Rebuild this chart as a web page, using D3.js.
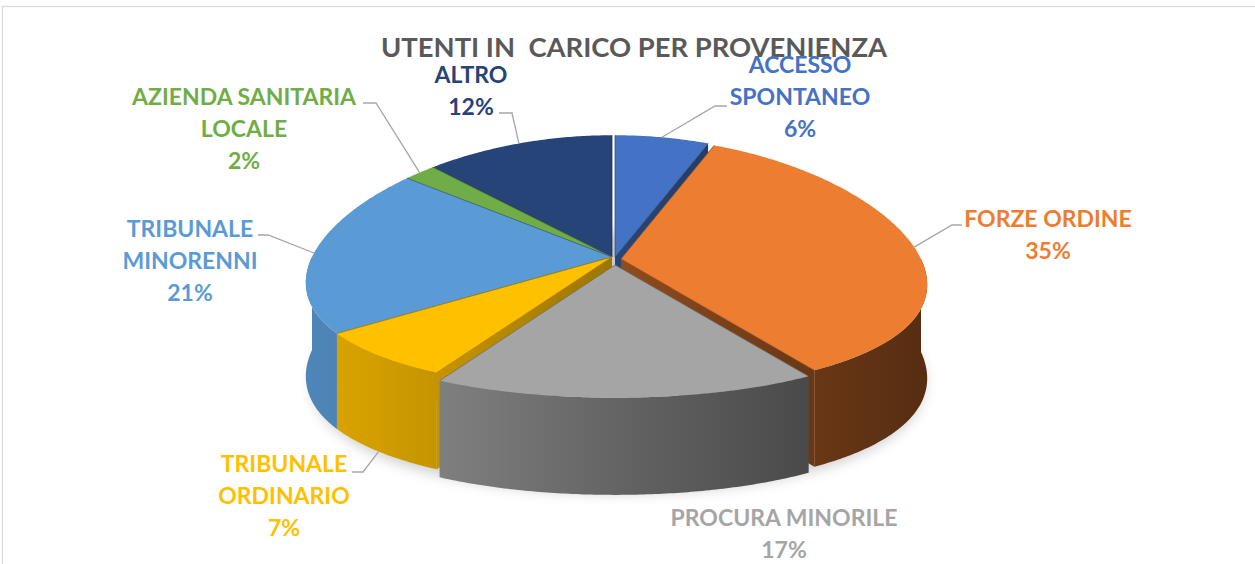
<!DOCTYPE html>
<html>
<head>
<meta charset="utf-8">
<script src="https://cdn.jsdelivr.net/npm/d3@7"></script>
<style>
  body { margin: 0; background: #fff; }
  svg { display: block; }
  text { font-family: Lato, "Open Sans", sans-serif; font-weight: bold; }
</style>
</head>
<body>
<div id="chart"></div>
<script>
// Data
const categories = ["ACCESSO SPONTANEO", "FORZE ORDINE", "PROCURA MINORILE", "TRIBUNALE ORDINARIO",
  "TRIBUNALE MINORENNI", "AZIENDA SANITARIA LOCALE", "ALTRO"];
const labelLines = [["ACCESSO", "SPONTANEO"], ["FORZE ORDINE"], ["PROCURA MINORILE"], ["TRIBUNALE", "ORDINARIO"],
  ["TRIBUNALE", "MINORENNI"], ["AZIENDA SANITARIA", "LOCALE"], ["ALTRO"]];
const values = [6, 35, 17, 7, 21, 2, 12];
const colors = ["#4472C4", "#ED7D31", "#A5A5A5", "#FFC000", "#5B9BD5", "#70AD47", "#264478"];
const title = "UTENTI IN  CARICO PER PROVENIENZA";

// Layout
const width = 1255;
const height = 564;
const cx = 612, cy = 257;   // pie centre
const rx = 300, ry = 127;   // radii of the top face
const perspX = 0.2;         // perspective, horizontal
const perspY = 0.043;       // perspective, vertical
const depth = 93;           // thickness of the pie
const wallX0 = 303, wallX1 = 921;

// exploded slices (px)
const explode = {
  "ACCESSO SPONTANEO": [3, 0],
  "FORZE ORDINE": [9, 2],
  "PROCURA MINORILE": [3, 8]
};

// label placement: centre x, first baseline, leader elbow and end
const labelPos = {
  "ACCESSO SPONTANEO": { x: 800, y: 73, elbow: [715, 106], end: [727, 106] },
  "FORZE ORDINE": { x: 1048, y: 227, elbow: [952, 225], end: [962, 225] },
  "PROCURA MINORILE": { x: 784, y: 526 },
  "TRIBUNALE ORDINARIO": { x: 284, y: 472, elbow: [363, 472], end: [352, 472] },
  "TRIBUNALE MINORENNI": { x: 190, y: 237, elbow: [268, 235], end: [258, 235] },
  "AZIENDA SANITARIA LOCALE": { x: 244, y: 105, elbow: [376, 103], end: [363, 103] },
  "ALTRO": { x: 471, y: 83, elbow: [512, 113], end: [499, 113] }
};

const svg = d3
  .select("#chart")
  .append("svg")
  .attr("width", width)
  .attr("height", height);

const defs = svg.append("defs");

// chart frame
svg.append("rect")
  .attr("x", 2.5).attr("y", 6.5)
  .attr("width", width + 20).attr("height", height + 20)
  .attr("fill", "none")
  .attr("stroke", "#D9D9D9")
  .attr("stroke-width", 1.2);

// title
svg.append("text")
  .attr("x", 634)
  .attr("y", 57)
  .attr("text-anchor", "middle")
  .attr("font-size", 26.5)
  .attr("fill", "#595959")
  .attr("textLength", 506)
  .attr("lengthAdjust", "spacingAndGlyphs")
  .style("white-space", "pre")
  .text(title);

const total = d3.sum(values);
const pct = d3.format(".0%");

const pie = d3.pie().sort(null).value((d) => d.value);
const arcs = pie(categories.map((c, i) => ({ name: c, value: values[i], color: colors[i], lines: labelLines[i] })));

function project(a, r, h, off) {
  const X = r * Math.sin(a);
  const Z = -r * Math.cos(a);
  const fx = 1 / (1 - Z * perspX);
  const fy = 1 / (1 - Z * perspY);
  return [cx + off[0] + rx * X * fx, cy + off[1] + ry * Z * fy + h * fy];
}

function sample(a0, a1) {
  const n = Math.max(2, Math.ceil((a1 - a0) / 0.01));
  return d3.range(n + 1).map((i) => a0 + ((a1 - a0) * i) / n);
}

const line = d3.line();

// shadow
const shadow = defs.append("filter").attr("id", "shadow").attr("x", "-20%").attr("y", "-20%").attr("width", "140%").attr("height", "140%");
shadow.append("feGaussianBlur").attr("stdDeviation", 7);
const ring = sample(0, 2 * Math.PI).map((a) => project(a, 1.0, depth, [6, 6]));
svg.append("path")
  .attr("d", line(ring) + "Z")
  .attr("fill", "#000")
  .attr("opacity", 0.2)
  .attr("filter", "url(#shadow)");

// gradients for the side walls: lighter on the left, darker on the right
arcs.forEach((d, i) => {
  const base = d3.color(d.data.color);
  const g = defs.append("linearGradient")
    .attr("id", "wall" + i)
    .attr("gradientUnits", "userSpaceOnUse")
    .attr("x1", wallX0).attr("x2", wallX1)
    .attr("y1", 0).attr("y2", 0);
  d3.range(0, 1.01, 0.1).forEach((t) => {
    g.append("stop")
      .attr("offset", t)
      .attr("stop-color", base.darker(0.4 + 2.4 * Math.pow(t, 1.3)));
  });
});

// draw back to front
const midZ = (d) => -Math.cos((d.startAngle + d.endAngle) / 2);
const order = arcs.map((d, i) => i).sort((a, b) => midZ(arcs[a]) - midZ(arcs[b]));

const pieG = svg.append("g");

order.forEach((i) => {
  const d = arcs[i];
  const off = explode[d.data.name] || [0, 0];
  const g = pieG.append("g");
  const fillWall = `url(#wall${i})`;

  // cut faces
  [d.startAngle, d.endAngle].forEach((a) => {
    const pts = [project(a, 0, 0, off), project(a, 1, 0, off), project(a, 1, depth, off), project(a, 0, depth, off)];
    g.append("path").attr("d", line(pts) + "Z").attr("fill", fillWall);
  });

  // outer wall, front half only
  const w0 = Math.max(d.startAngle, Math.PI / 2);
  const w1 = Math.min(d.endAngle, 1.5 * Math.PI);
  if (w1 > w0) {
    const s = sample(w0, w1);
    const pts = s.map((a) => project(a, 1, 0, off)).concat(s.slice().reverse().map((a) => project(a, 1, depth, off)));
    g.append("path").attr("d", line(pts) + "Z").attr("fill", fillWall);
  }

  // top face
  const top = [project(0, 0, 0, off)].concat(sample(d.startAngle, d.endAngle).map((a) => project(a, 1, 0, off)));
  g.append("path").attr("d", line(top) + "Z").attr("fill", d.data.color);

  // edges of the cut on the top face
  [d.startAngle, d.endAngle].forEach((a) => {
    g.append("path")
      .attr("d", line([project(a, 0, 0, off), project(a, 1, 0, off)]))
      .attr("stroke", d3.color(d.data.color).darker(1.2))
      .attr("stroke-width", 1)
      .attr("stroke-opacity", 0.7)
      .attr("fill", "none");
  });
});

// leader lines and labels
const labels = svg.append("g");
arcs.forEach((d) => {
  const p = labelPos[d.data.name];
  const off = explode[d.data.name] || [0, 0];
  const mid = (d.startAngle + d.endAngle) / 2;
  if (p.elbow) {
    const anchor = project(mid, 1, Math.cos(mid) < 0 ? depth : 0, off);
    labels.append("path")
      .attr("d", line([anchor, p.elbow, p.end]))
      .attr("fill", "none")
      .attr("stroke", "#A6A6A6")
      .attr("stroke-width", 1.3);
  }
  const rows = d.data.lines.concat([pct(d.data.value / total)]);
  rows.forEach((r, k) => {
    labels.append("text")
      .attr("x", p.x)
      .attr("y", p.y + k * 32)
      .attr("text-anchor", "middle")
      .attr("font-size", 23)
      .attr("fill", d.data.color)
      .text(r);
  });
});
</script>
</body>
</html>
